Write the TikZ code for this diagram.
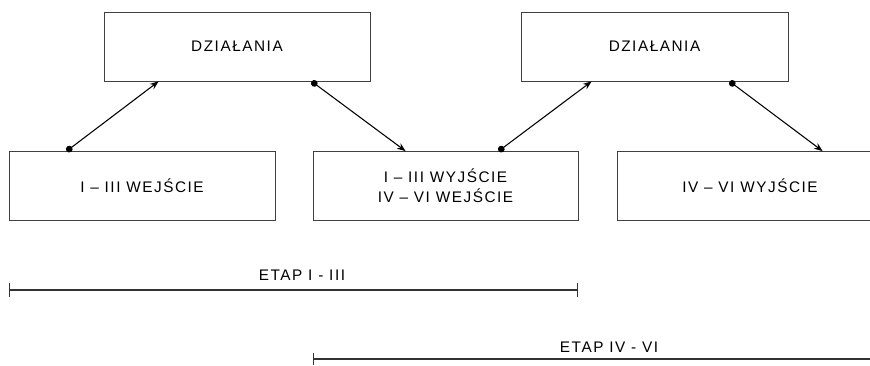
\documentclass[tikz,border=0pt]{standalone}
\usepackage{fontspec}
\setmainfont{Liberation Sans}[LetterSpace=10]
\usetikzlibrary{arrows.meta,calc}

\begin{document}
\begin{tikzpicture}[x=0.75pt,y=-0.75pt,
    stagebox/.style ={draw=black!75, line width=0.6pt, minimum width=199.5pt,
      minimum height=51.75pt, inner sep=0pt, align=center,
      font=\fontsize{11.5}{15}\selectfont},
    flow/.style ={line width=0.8pt, {Circle[length=5pt]}-{Stealth[length=6.5pt,width=5pt]}},
    span/.style ={line width=1.1pt, draw=black!80},
    spanlabel/.style ={inner sep=0pt, font=\fontsize{11.5}{13}\selectfont}]
   \useasboundingbox (0,0) rectangle (870,365);
   \clip (0,0) rectangle (870,365);
   % boxes
   \node[stagebox] (D1) at (237,46.5) {DZIAŁANIA};
   \node[stagebox, minimum width=200.25pt] (D2) at (654.5,46.5) {DZIAŁANIA};
   \node[stagebox] (B1) at (142,186) {I – III WEJŚCIE};
   \node[stagebox, minimum width=198.75pt] (B2) at (445.5,186) {I – III WYJŚCIE\\IV – VI WEJŚCIE};
   \node[stagebox] (B3) at (750,186) {IV – VI WYJŚCIE};
   % arrows
   \draw[flow] ($(B1.north west)+(58,0)$) -- ($(D1.south west)+(55,0)$);
   \draw[flow] ($(D1.south west)+(208,0)$) -- ($(B2.north west)+(93,0)$);
   \draw[flow] ($(B2.north west)+(186,0)$) -- ($(D2.south west)+(71,0)$);
   \draw[flow] ($(D2.south west)+(209,0)$) -- ($(B3.north west)+(206,0)$);
   % stages
   \coordinate (s1a) at (9,290);
   \coordinate (s1b) at (578,290);
   \coordinate (s2a) at (313,359);
   \coordinate (s2b) at (880,359);
   \draw[span, {Bar[width=11pt]}-{Bar[width=11pt]}] (s1a) -- (s1b);
   \draw[span, {Bar[width=9pt]}-] (s2a) -- (s2b);
   \node[spanlabel] (etap1) at (302,275) {ETAP I - III};
   \node[spanlabel] (etap2) at (609,347) {ETAP IV - VI};
\end{tikzpicture}
\end{document}
